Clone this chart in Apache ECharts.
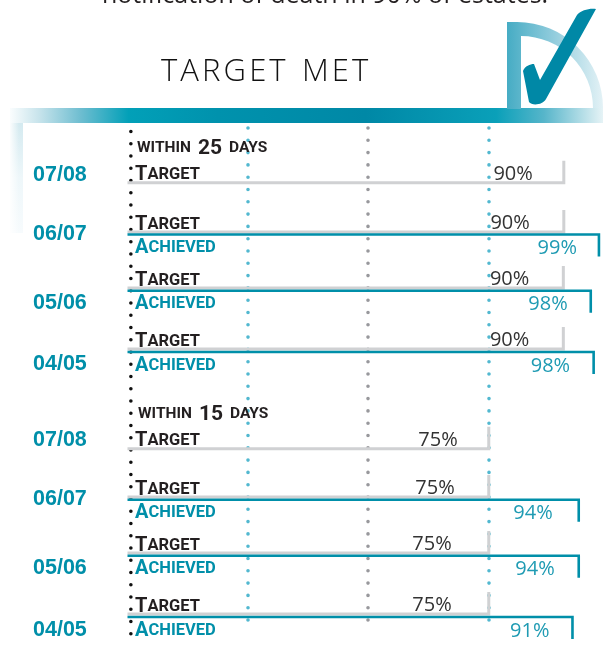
<!DOCTYPE html>
<html>
<head>
<meta charset="utf-8">
<title>Target met</title>
<script src="https://cdn.jsdelivr.net/npm/echarts@6/dist/echarts.min.js"></script>
<style>
html,body{margin:0;padding:0;background:#fff}
#chart{width:603px;height:647px}
</style>
</head>
<body>
<div id="chart"></div>
<script>
// data
var periods = ['07/08', '06/07', '05/06', '04/05'];
var printed25Target = [90, 90, 90, 90];
var printed25Achieved = [null, 99, 98, 98];
var printed15Target = [75, 75, 75, 75];
var printed15Achieved = [null, 94, 94, 91];
// the bars in the picture are not quite to scale with their printed labels,
// so the lengths are read separately against the dotted guides
var bar25Target = [90.7, 90.7, 90.6, 90.6];
var bar25Achieved = [null, 98, 96.3, 96.9];
var bar15Target = [75.1, 75.1, 75.1, 75.1];
var bar15Achieved = [null, 93.8, 93.8, 92.5];

// row layout, in y axis units (same as page pixels)
var layout25 = {
    target: [182.7, 232, 288, 349],
    achieved: [null, 234.5, 290.7, 352],
    period: [175, 234, 303, 364],
    targetGap: [31, 34, 34, 34],
    achievedGap: [null, 22, 23, 23.5]
};
var layout15 = {
    target: [448.7, 497, 553, 614],
    achieved: [null, 499.7, 555.7, 617],
    period: [440, 499, 568, 630],
    targetGap: [31, 34, 37, 37],
    achievedGap: [null, 26, 24, 23]
};

var TEAL = '#008fa9', GREY = '#d0d1d3', INK = '#231f20';
var SANS = 'Roboto, "Liberation Sans", sans-serif';
var LIBERATION = '"Liberation Sans", sans-serif';
var LIGHT = '"Open Sans", sans-serif';

function buildRows(printedT, printedA, barT, barA, lay) {
    var rows = [];
    periods.forEach(function (p, i) {
        rows.push([barT[i], lay.target[i], 0, printedT[i] + '%', lay.targetGap[i], p, lay.period[i]]);
        if (barA[i] != null) {
            rows.push([barA[i], lay.achieved[i], 1, printedA[i] + '%', lay.achievedGap[i], '', 0]);
        }
    });
    return rows;
}
var rows = buildRows(printed25Target, printed25Achieved, bar25Target, bar25Achieved, layout25)
    .concat(buildRows(printed15Target, printed15Achieved, bar15Target, bar15Achieved, layout15));

function smallCaps(word) {
    return '{big|' + word.charAt(0) + '}{small|' + word.slice(1) + '}';
}
function capsRich(color) {
    return {
        big: {fontFamily: SANS, fontWeight: 'bold', fontSize: 20, fill: color},
        small: {fontFamily: SANS, fontWeight: 'bold', fontSize: 16.5, fill: color}
    };
}
function headingRich() {
    return {
        small: {fontFamily: SANS, fontWeight: 'bold', fontSize: 15.5, fill: INK},
        num: {fontFamily: SANS, fontWeight: 'bold', fontSize: 21, fill: INK, padding: [0, 7, 0, 7]}
    };
}

function renderBar(params, api) {
    var achieved = api.value(2) === 1;
    var end = api.coord([api.value(0), api.value(1)]);
    var start = api.coord([0, api.value(1)]);
    var color = achieved ? TEAL : GREY;
    var width = achieved ? 2.6 : 3;
    var tickY = achieved ? end[1] + 22 : end[1] - 22;
    var children = [{
        type: 'polyline',
        shape: {points: [start, end, [end[0], tickY]]},
        style: {stroke: color, lineWidth: width, fill: null}
    }, {
        type: 'text',
        x: start[0] + 7.5,
        y: end[1] + (achieved ? 13.5 : -7.5),
        style: {
            text: smallCaps(achieved ? 'ACHIEVED' : 'TARGET'),
            rich: capsRich(achieved ? TEAL : INK),
            verticalAlign: 'middle'
        }
    }, {
        type: 'text',
        x: end[0] - api.value(4),
        y: end[1] + (achieved ? 14 : -8.5),
        style: {
            text: rows[params.dataIndex][3],
            font: '20px ' + LIGHT,
            fill: achieved ? '#1f9bb3' : '#333',
            align: 'right',
            verticalAlign: 'middle'
        }
    }];
    var period = rows[params.dataIndex][5];
    if (period) {
        children.push({
            type: 'text',
            x: 33,
            y: api.coord([0, rows[params.dataIndex][6]])[1],
            style: {
                text: period,
                font: 'bold 21.5px ' + LIBERATION,
                fill: TEAL,
                verticalAlign: 'middle'
            }
        });
    }
    return {type: 'group', children: children};
}

function renderDecor() {
    return {
        type: 'group',
        children: [{
            type: 'path',
            shape: {pathData: 'M507,109 L507,22 L517,22 A86,86 0 0 1 603,108 L593,108 A72,72 0 0 0 521,36 L521,109 Z'},
            style: {
                fill: {type: 'linear', x: 0, y: 0, x2: 1, y2: 0, colorStops: [
                    {offset: 0, color: '#46acc4'},
                    {offset: 0.45, color: '#8ccadb'},
                    {offset: 1, color: '#e4f2f6'}
                ]}
            }
        }, {
            type: 'path',
            shape: {pathData: 'M523,71 C525,66 530,64 534,64 L540,80 L577,15 C581,10 590,8 596,9 L546,99 C543,105 532,106 529,102 Z'},
            style: {fill: '#0088a6'}
        }]
    };
}

var chart = echarts.init(document.getElementById('chart'));
chart.setOption({
    animation: false,
    backgroundColor: '#fff',
    // 95 keeps the grid inside the window, bars past it are not clipped
    grid: {left: 127.5, width: 457, top: 128, height: 499},
    xAxis: {
        type: 'value', min: 0, max: 95, interval: 25,
        axisLine: {show: false}, axisTick: {show: false}, axisLabel: {show: false},
        splitLine: {
            show: true,
            lineStyle: {
                color: ['rgba(0,0,0,0)', '#52b8d0', '#98989c', '#52b8d0', 'rgba(0,0,0,0)'],
                width: 3.6, cap: 'round', type: [0, 12.3]
            }
        }
    },
    yAxis: {
        type: 'value', inverse: true, min: 128, max: 627, show: false,
        splitLine: {show: false}
    },
    graphic: [{
        type: 'rect', z: 1, shape: {x: 10, y: 108, width: 593, height: 15},
        style: {fill: {type: 'linear', x: 0, y: 0, x2: 1, y2: 0, colorStops: [
            {offset: 0, color: '#fafdfe'},
            {offset: 0.05, color: '#c6e3eb'},
            {offset: 0.12, color: '#6dbdd0'},
            {offset: 0.2, color: '#02a0b8'},
            {offset: 0.35, color: '#0092ad'},
            {offset: 0.6, color: '#0088a6'},
            {offset: 0.82, color: '#0aa0b9'},
            {offset: 0.9, color: '#56b5ca'},
            {offset: 1, color: '#e6f3f6'}
        ]}}
    }, {
        type: 'rect', z: 1, shape: {x: 10, y: 123, width: 13, height: 110},
        style: {fill: {type: 'linear', x: 0, y: 0, x2: 0, y2: 1, colorStops: [
            {offset: 0, color: '#d4eaf0'},
            {offset: 0.5, color: '#eef7fa'},
            {offset: 1, color: '#f7fbfd'}
        ]}}
    }, {
        type: 'rect', z: 1, shape: {x: 10, y: 123, width: 9, height: 110},
        style: {fill: {type: 'linear', x: 0, y: 0, x2: 1, y2: 0, colorStops: [
            {offset: 0, color: 'rgba(255,255,255,0.9)'},
            {offset: 1, color: 'rgba(255,255,255,0)'}
        ]}}
    }, {
        type: 'text', z: 5, x: 161, y: 57,
        style: {text: 'T\u200aA\u200aR\u200aG\u200aE\u200aT\u2009 \u200aM\u200aE\u200aT', font: '300 31px ' + LIGHT, fill: '#111'}
    }, {
        type: 'text', z: 5, x: 102, y: -17,
        style: {text: 'notification of death in 90% of estates.', font: '25px ' + LIGHT, fill: INK}
    }, {
        type: 'text', z: 5, x: 137, y: 138,
        style: {text: '{small|WITHIN}{num|25}{small|DAYS}', rich: headingRich()}
    }, {
        type: 'text', z: 5, x: 138, y: 404,
        style: {text: '{small|WITHIN}{num|15}{small|DAYS}', rich: headingRich()}
    }],
    series: [{
        name: 'decor', type: 'custom', coordinateSystem: 'none', silent: true, z: 1,
        data: [0], renderItem: renderDecor
    }, {
        name: 'origin', type: 'custom', silent: true, z: 2, data: [[0.7]],
        encode: {x: 0},
        renderItem: function (params, api) {
            var x = api.coord([api.value(0), 128])[0];
            return {
                type: 'line',
                shape: {x1: x, y1: 131.5, x2: x, y2: 640},
                style: {stroke: '#111', lineWidth: 3.6, lineCap: 'round', lineDash: [0, 12.25]}
            };
        }
    }, {
        name: 'bars', type: 'custom', silent: true, z: 3, data: rows,
        encode: {x: 0, y: 1}, clip: false,
        renderItem: renderBar
    }]
});
</script>
</body>
</html>
